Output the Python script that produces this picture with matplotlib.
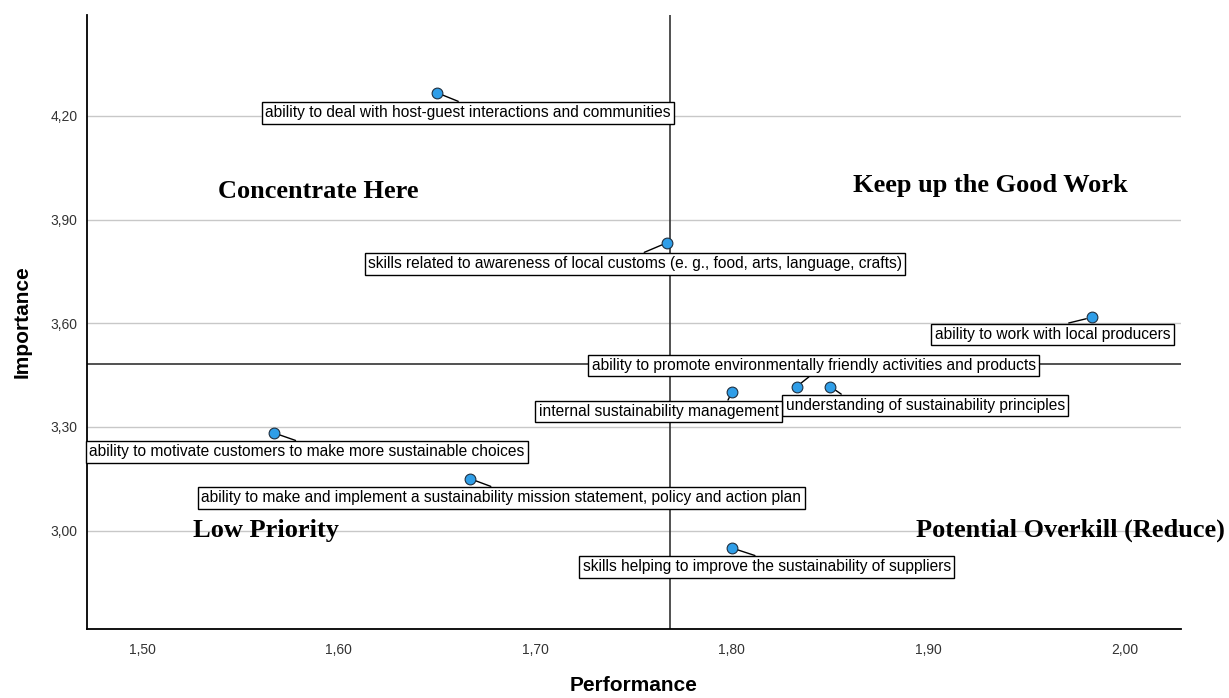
import numpy as np
import matplotlib.pyplot as plt
from matplotlib.ticker import FuncFormatter

# Importance-performance data
labels = [
    "ability to deal with host-guest interactions and communities",
    "skills related to awareness of local customs (e. g., food, arts, language, crafts)",
    "ability to work with local producers",
    "ability to promote environmentally friendly activities and products",
    "understanding of sustainability principles",
    "internal sustainability management",
    "ability to motivate customers to make more sustainable choices",
    "ability to make and implement a sustainability mission statement, policy and action plan",
    "skills helping to improve the sustainability of suppliers",
]
performance = [1.650, 1.767, 1.983, 1.833, 1.850, 1.800, 1.567, 1.667, 1.800]
importance = [4.267, 3.833, 3.617, 3.417, 3.417, 3.400, 3.283, 3.150, 2.950]

x_ticks = [1.50, 1.60, 1.70, 1.80, 1.90, 2.00]
y_ticks = [3.00, 3.30, 3.60, 3.90, 4.20]

# label box offsets from each point, in pixels (x right, y up)
offsets = [(31, -20), (-32, -21), (-39, -17), (17, 21), (95, -19),
           (-73, -19), (33, -19), (31, -19), (35, -19)]
# where the leader line meets the box (fraction of box width)
leader_x = [0.5, 0.5, 0.5, 0.5, 0.22, 0.78, 0.5, 0.5, 0.5]

fig = plt.figure(figsize=(12.29, 6.98), dpi=100)
ax = fig.add_axes([0.0708, 0.0989, 0.8902, 0.8796])

ax.set_xlim(1.472, 2.0285)
ax.set_ylim(2.7156, 4.492)
ax.set_xticks(x_ticks)
ax.set_yticks(y_ticks)
fmt = FuncFormatter(lambda v, p: f"{v:.2f}".replace(".", ","))
ax.xaxis.set_major_formatter(fmt)
ax.yaxis.set_major_formatter(fmt)
ax.tick_params(length=0, labelsize=10, labelcolor='#333333')
ax.tick_params(axis='x', pad=10)
ax.tick_params(axis='y', pad=7)
for lab in ax.get_xticklabels() + ax.get_yticklabels():
    lab.set_family('Liberation Sans')

ax.grid(axis='y', color='#c8c8c8', linewidth=1)
ax.set_axisbelow(True)
for s in ['top', 'right']:
    ax.spines[s].set_visible(False)
ax.spines['left'].set_linewidth(1.3)
ax.spines['bottom'].set_linewidth(1.3)

# mean reference lines
ax.axvline(np.mean(performance), color='#333333', linewidth=1.2, zorder=2)
ax.axhline(np.mean(importance), color='#333333', linewidth=1.2, zorder=2)

ax.scatter(performance, importance, s=60, facecolor='#2f9ee8', edgecolor='#1f2f3f',
           linewidth=0.8, zorder=5)

for lab, x, y, (dx, dy), rx in zip(labels, performance, importance, offsets, leader_x):
    rel = (rx, 1) if dy < 0 else (rx, 0)
    ax.annotate(lab, (x, y), xytext=(dx, dy), textcoords='offset pixels',
                ha='center', va='center', fontsize=11.2, family='Liberation Sans',
                bbox=dict(boxstyle='square,pad=0.22', fc='white', ec='black', lw=1),
                arrowprops=dict(arrowstyle='-', color='black', lw=1, shrinkA=0,
                                shrinkB=4, relpos=rel),
                zorder=4)

# quadrant captions
qfont = dict(family='Liberation Serif', fontsize=19, fontweight='bold')
ax.text(0.12, 0.713, "Concentrate Here", transform=ax.transAxes, ha='left', va='center', **qfont)
ax.text(0.700, 0.722, "Keep up the Good Work", transform=ax.transAxes, ha='left', va='center', **qfont)
ax.text(0.097, 0.16, "Low Priority", transform=ax.transAxes, ha='left', va='center', **qfont)
ax.text(0.758, 0.16, "Potential Overkill (Reduce)", transform=ax.transAxes, ha='left', va='center',
        clip_on=False, **qfont)

ax.set_xlabel("Performance", fontsize=15, fontweight='bold', family='Liberation Sans', labelpad=14)
ax.set_ylabel("Importance", fontsize=15, fontweight='bold', family='Liberation Sans', labelpad=13)

fig.savefig("out.png", dpi=100)
